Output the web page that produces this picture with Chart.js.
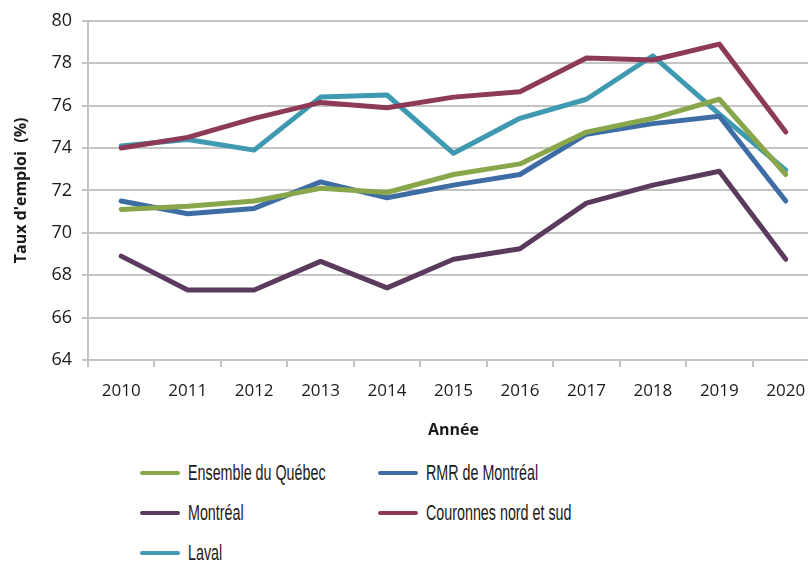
<!DOCTYPE html>
<html lang="fr">
<head>
<meta charset="UTF-8">
<title>Taux d'emploi</title>
<script src="https://cdn.jsdelivr.net/npm/chart.js"></script>
<style>
    html, body {
        margin: 0;
        padding: 0;
        width: 808px;
        height: 563px;
        overflow: hidden;
        background: #fff;
    }
    .wrap {
        position: relative;
        width: 820px;
        height: 440px;
    }
    #legend {
        position: absolute;
        left: 140px;
        top: 461px;
        display: grid;
        grid-template-columns: 238px 260px;
        row-gap: 16px;
        font-family: 'Liberation Sans', sans-serif;
        font-size: 22px;
        color: #1a1a1a;
    }
    .item {
        display: flex;
        align-items: center;
        height: 24px;
    }
    .swatch {
        width: 40px;
        height: 4px;
        border-radius: 2px;
        margin-right: 8px;
        flex: none;
    }
    .label {
        display: inline-block;
        white-space: nowrap;
        transform: scaleX(0.65);
        transform-origin: left center;
    }
</style>
</head>
<body>
<div class="wrap">
    <canvas id="chart" width="820" height="440"></canvas>
</div>
<div id="legend"></div>

<script>
    // Données
    const years = ['2010', '2011', '2012', '2013', '2014', '2015', '2016', '2017', '2018', '2019', '2020'];
    const quebec = [71.1, 71.25, 71.5, 72.1, 71.9, 72.75, 73.25, 74.75, 75.4, 76.3, 72.75];
    const rmr = [71.5, 70.9, 71.15, 72.4, 71.65, 72.25, 72.75, 74.65, 75.15, 75.5, 71.5];
    const montreal = [68.9, 67.3, 67.3, 68.65, 67.4, 68.75, 69.25, 71.4, 72.25, 72.9, 68.75];
    const couronnes = [74.0, 74.5, 75.4, 76.15, 75.9, 76.4, 76.65, 78.25, 78.15, 78.9, 74.75];
    const laval = [74.1, 74.4, 73.9, 76.4, 76.5, 73.75, 75.4, 76.3, 78.35, 75.6, 72.95];

    const seriesNames = ['Ensemble du Québec', 'RMR de Montréal', 'Montréal', 'Couronnes nord et sud', 'Laval'];
    const seriesColors = ['#88a64a', '#3e6da5', '#5b3b5d', '#8c3a57', '#3f99b1'];
    const seriesData = [quebec, rmr, montreal, couronnes, laval];

    const textColor = '#1a1a1a';
    const gridColor = '#c4c4c4';

    const datasets = seriesNames.map((name, i) => ({
        label: name,
        data: seriesData[i],
        borderColor: seriesColors[i],
        backgroundColor: seriesColors[i],
        borderWidth: 5,
        pointRadius: 0,
        tension: 0,
        borderCapStyle: 'round',
        borderJoinStyle: 'round'
    }));
    // ordre de dessin : Laval sous les autres
    const order = [2, 3, 1, 0, 4];
    datasets.forEach((d, i) => d.order = order[i]);

    const chart = new Chart(document.getElementById('chart'), {
        type: 'line',
        data: { labels: years, datasets: datasets },
        options: {
            responsive: false,
            animation: false,
            layout: { padding: { top: 18, left: 12, right: 1, bottom: 0 } },
            plugins: {
                legend: { display: false },
                tooltip: { enabled: false }
            },
            scales: {
                x: {
                    offset: true,
                    grid: {
                        offset: true,
                        drawOnChartArea: false,
                        drawTicks: true,
                        tickLength: 7,
                        color: gridColor,
                        lineWidth: 2
                    },
                    border: { color: gridColor, width: 2 },
                    ticks: {
                        color: textColor,
                        font: { family: 'Open Sans', size: 17 },
                        padding: 14,
                        maxRotation: 0
                    },
                    title: {
                        display: true,
                        text: 'Année',
                        color: textColor,
                        font: { family: 'Open Sans', size: 16, weight: 'bold' },
                        padding: { top: 8, bottom: 0 }
                    },
                    afterFit: (scale) => { scale.height = 80; }
                },
                y: {
                    min: 64,
                    max: 80,
                    ticks: {
                        stepSize: 2,
                        color: textColor,
                        font: { family: 'Open Sans', size: 18 },
                        padding: 10
                    },
                    grid: {
                        color: gridColor,
                        lineWidth: 2,
                        tickLength: 6
                    },
                    border: { color: gridColor, width: 2 },
                    title: {
                        display: true,
                        text: "Taux d'emploi  (%)",
                        color: textColor,
                        font: { family: 'Open Sans', size: 16, weight: 'bold' },
                        padding: { top: 0, bottom: 4 }
                    },
                    afterFit: (scale) => { scale.width = 76; }
                }
            }
        }
    });

    // Légende en deux colonnes
    const legend = document.getElementById('legend');
    seriesNames.forEach((name, i) => {
        const item = document.createElement('div');
        item.className = 'item';
        const sw = document.createElement('span');
        sw.className = 'swatch';
        sw.style.background = seriesColors[i];
        const label = document.createElement('span');
        label.className = 'label';
        label.textContent = name;
        item.appendChild(sw);
        item.appendChild(label);
        legend.appendChild(item);
    });
</script>
</body>
</html>
